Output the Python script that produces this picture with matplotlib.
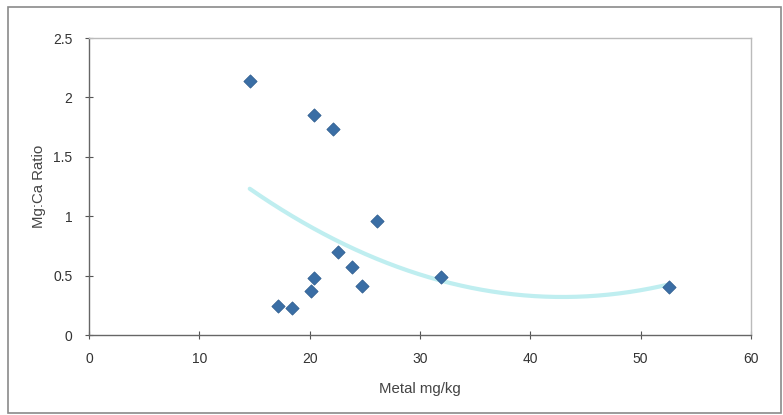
import numpy as np
import matplotlib
matplotlib.use("Agg")
import matplotlib.pyplot as plt
from matplotlib.patches import Rectangle

metal = [14.57, 20.36, 22.1, 22.6, 20.36, 20.15, 17.1, 18.37, 26.1, 23.8, 24.7, 31.9, 52.6]
ratio = [2.14, 1.85, 1.73, 0.70, 0.48, 0.37, 0.24, 0.23, 0.96, 0.57, 0.41, 0.485, 0.40]
x_ticks = [0, 10, 20, 30, 40, 50, 60]
y_ticks = [0, 0.5, 1, 1.5, 2, 2.5]
y_tick_labels = ["0", "0.5", "1", "1.5", "2", "2.5"]

plt.rcParams['font.family'] = ['Liberation Sans', 'DejaVu Sans']

fig = plt.figure(figsize=(7.83, 4.15), dpi=100)
fig.patch.set_facecolor('white')
ax = fig.add_axes([89/783, 1-335/415, (751-89)/783, (335-38)/415])

# outer chart border
fig.add_artist(Rectangle((8/783, 2.5/415), (781-8)/783, (408-2.5)/415,
                         transform=fig.transFigure, fill=False,
                         edgecolor='#8a8a8a', linewidth=1.2))

# quadratic trendline
coef = np.polyfit(metal, ratio, 2)
xs = np.linspace(min(metal), max(metal), 200)
ax.plot(xs, np.polyval(coef, xs), color='#bfeef0', linewidth=3, zorder=2,
        solid_capstyle='round')

ax.scatter(metal, ratio, marker='D', s=46, color='#3a6ea5', edgecolor='#2c5a8c',
           linewidth=0.5, zorder=3)

ax.set_xlim(0, 60)
ax.set_ylim(0, 2.5)
ax.set_xticks(x_ticks)
ax.set_xticklabels([str(t) for t in x_ticks])
ax.set_yticks(y_ticks)
ax.set_yticklabels(y_tick_labels)
ax.tick_params(direction='inout', length=6, width=0.8, colors='#555555',
               labelsize=10, labelcolor='#333333')
ax.tick_params(axis='x', pad=9)
ax.tick_params(axis='y', pad=9)

for s in ['left', 'bottom']:
    ax.spines[s].set_color('#666666')
    ax.spines[s].set_linewidth(1.0)
for s in ['top', 'right']:
    ax.spines[s].set_color('#bbbbbb')
    ax.spines[s].set_linewidth(1.0)

ax.set_xlabel('Metal mg/kg', fontsize=10.8, color='#444444', labelpad=12)
ax.set_ylabel('Mg:Ca Ratio', fontsize=10.8, color='#444444', labelpad=5)

fig.savefig('out.png', dpi=100, facecolor='white')
